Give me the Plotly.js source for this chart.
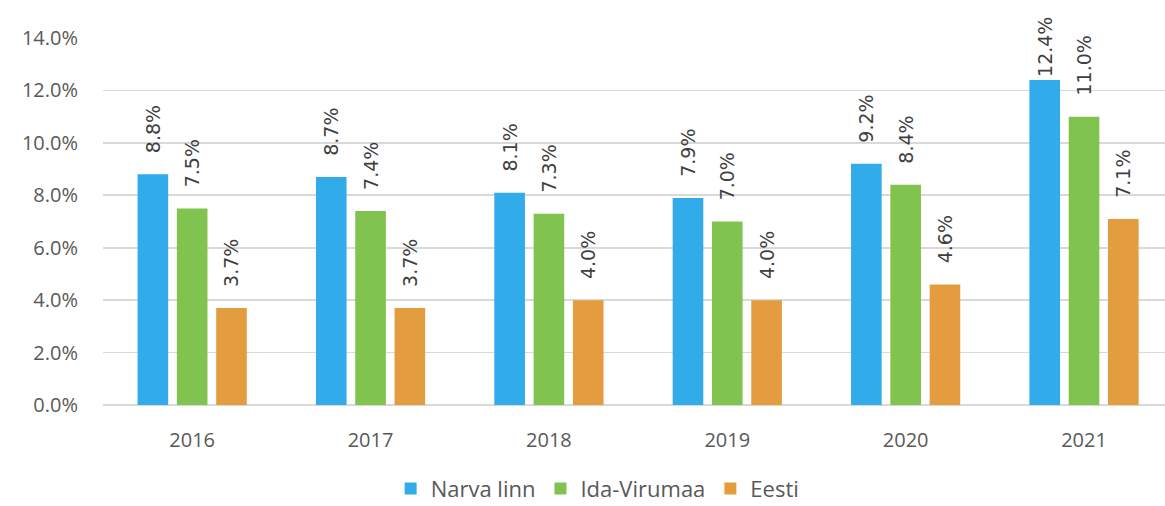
<!DOCTYPE html>
<html>
<head>
<meta charset="utf-8">
<script src="https://cdn.plot.ly/plotly-3.0.1.min.js"></script>
<style>html,body{margin:0;padding:0;background:#fff;}#chart{width:1165px;height:506px;}</style>
</head>
<body>
<div id="chart"></div>
<script>
var years = ['2016', '2017', '2018', '2019', '2020', '2021'];
var seriesNames = ['Narva linn', 'Ida-Virumaa', 'Eesti'];
var narva = [0.088, 0.087, 0.081, 0.079, 0.092, 0.124];
var idaVirumaa = [0.075, 0.074, 0.073, 0.070, 0.084, 0.110];
var eesti = [0.037, 0.037, 0.040, 0.040, 0.046, 0.071];
var yTicks = [0, 0.02, 0.04, 0.06, 0.08, 0.10, 0.12, 0.14];

var colors = ['#32ABEA', '#80C34F', '#E39D3F'];
var allSeries = [narva, idaVirumaa, eesti];

function labelText(v) {
  var s = (v * 100).toFixed(1) + '%';
  // leave a gap between the bar top and the label, except when it would run off the top
  return (v > 0.12 ? '' : '\u00a0\u00a0\u00a0') + s;
}

var traces = allSeries.map(function (vals, i) {
  return {
    type: 'bar',
    name: seriesNames[i],
    x: years,
    y: vals,
    marker: { color: colors[i] },
    text: vals.map(labelText),
    textposition: 'outside',
    textangle: -90,
    cliponaxis: false,
    constraintext: 'none',
    textfont: { family: 'DejaVu Sans', size: 19, color: '#404040' },
    hoverinfo: 'skip'
  };
});

var layout = {
  width: 1165,
  height: 506,
  margin: { l: 103, r: 0, t: 38, b: 101 },
  paper_bgcolor: '#ffffff',
  plot_bgcolor: '#ffffff',
  barmode: 'group',
  bargap: 0.339,
  bargroupgap: 0.221,
  font: { family: 'Open Sans', color: '#595959' },
  xaxis: {
    type: 'category',
    range: [-0.5, 5.454],
    showgrid: false,
    showline: false,
    zeroline: false,
    ticks: '',
    tickfont: { family: 'Open Sans', size: 20, color: '#595959' },
    ticklabelstandoff: 21
  },
  yaxis: {
    range: [0, 0.14],
    tickvals: yTicks,
    tickformat: '.1%',
    showgrid: true,
    gridcolor: '#D9D9D9',
    gridwidth: 1.6,
    zeroline: true,
    zerolinecolor: '#D9D9D9',
    zerolinewidth: 1.6,
    showline: false,
    ticks: '',
    tickfont: { family: 'Open Sans', size: 20, color: '#595959' },
    ticklabelstandoff: 24
  },
  showlegend: true,
  legend: {
    orientation: 'h',
    xref: 'container',
    yref: 'container',
    x: 0.513,
    xanchor: 'center',
    y: 0.034,
    yanchor: 'middle',
    font: { family: 'Open Sans', size: 22, color: '#595959' },
    itemwidth: 30,
    traceorder: 'normal'
  }
};

Plotly.newPlot('chart', traces, layout, { displayModeBar: false, staticPlot: true });
</script>
</body>
</html>
